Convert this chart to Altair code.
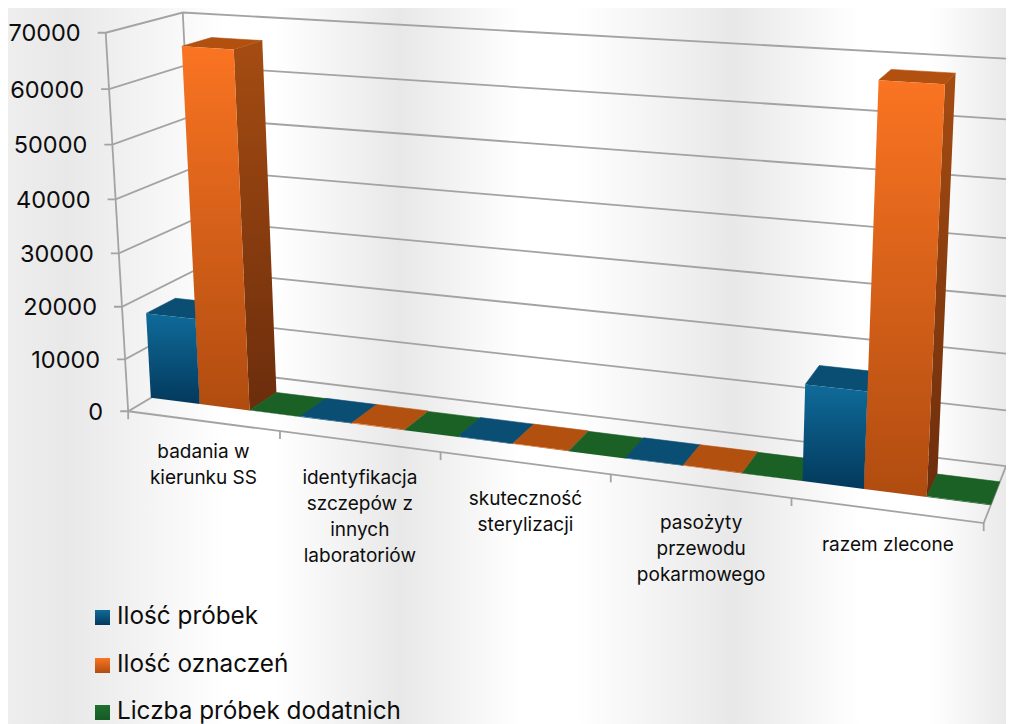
import altair as alt
import numpy as np
import pandas as pd

categories = ["badania w\nkierunku SS", "identyfikacja\nszczepów z\ninnych\nlaboratoriów",
              "skuteczność\nsterylizacji", "pasożyty\nprzewodu\npokarmowego", "razem zlecone"]
series = ["Ilość próbek", "Ilość oznaczeń", "Liczba próbek dodatnich"]
ilosc_probek = [16500, 120, 100, 90, 17000]
ilosc_oznaczen = [67000, 130, 110, 100, 68500]
liczba_dodatnich = [60, 20, 15, 15, 110]
y_ticks = [0, 10000, 20000, 30000, 40000, 50000, 60000, 70000]
ZMAX = 70000

# camera of the 3-D view, fitted on the frame of the plot box
_frame = [((0, 0, 0), (128, 411)), ((1, 0, 0), (984, 522)), ((0, 1, 0), (202, 370)),
          ((1, 1, 0), (1007, 467)), ((0, 0, 1), (105.7, 33)), ((0, 1, 1), (182, 13)),
          ((1, 1, 1), (1026, 58)), ((.2, 0, 0), (279, 433)), ((.4, 0, 0), (440, 454)),
          ((.6, 0, 0), (610, 476)), ((.8, 0, 0), (791, 498)), ((0, 0, 1 / 7), (125.7, 358)),
          ((0, 0, 2 / 7), (122.7, 306)), ((0, 0, 4 / 7), (116, 199)), ((0, 0, 5 / 7), (112.7, 145)),
          ((0, 0, 6 / 7), (109, 89)),
          ((0, .3, 0), (151, 398)), ((1 / 15, .3, 0), (198, 404)), ((2 / 15, .3, 0), (249, 409)),
          ((3 / 15, .3, 0), (302, 417)), ((4 / 15, .3, 0), (352, 423)), ((.8, .3, 0), (802, 480)),
          ((13 / 15, .3, 0), (863, 488)), ((14 / 15, .3, 0), (927, 496)), ((1, .3, 0), (991, 505)),
          ((1, .7, 0), (1000, 483)),
          ((1 / 15, .3, .957), (182, 46)), ((2 / 15, .3, .957), (233, 48)),
          ((13 / 15, .3, .979), (880, 82)), ((14 / 15, .3, .979), (946, 85))]
_w = np.ones(len(_frame))
for _ in range(12):
    _rows = []
    for ((s, d, t), (px, py)), w in zip(_frame, _w):
        _rows.append(np.array([s, d, t, 1, 0, 0, 0, 0, -px * s, -px * d, -px * t, -px]) / w)
        _rows.append(np.array([0, 0, 0, 0, s, d, t, 1, -py * s, -py * d, -py * t, -py]) / w)
    CAM = np.linalg.svd(np.array(_rows, float))[2][-1].reshape(3, 4)
    _w = np.array([(CAM @ np.array([*p, 1.0]))[2] for p, _q in _frame])


def proj(s, d, z):
    v = CAM @ np.array([s, d, z / ZMAX, 1.0])
    return float(v[0] / v[2]), float(v[1] / v[2])


def frame(points, name="a"):
    return pd.DataFrame([{"x": p[0], "y": p[1], "i": i, "g": name} for i, p in enumerate(points)])


X = alt.X("x:Q", scale=alt.Scale(domain=[8, 1006], nice=False, zero=False), axis=None)
Y = alt.Y("y:Q", scale=alt.Scale(domain=[724, 8], nice=False, zero=False), axis=None)
ORDER = alt.Order("i:Q")


def grad(stops, x2=0, y2=1):
    return alt.Gradient(gradient="linear", x1=0, y1=0, x2=x2, y2=y2,
                        stops=[alt.GradientStop(color=c, offset=o) for o, c in stops])


def poly(points, fill, edge=None):
    return alt.Chart(frame(points)).mark_line(fill=fill, stroke=edge or "transparent", strokeWidth=0.6, clip=True).encode(
        x=X, y=Y, order=ORDER)


layers = []

# striped page background
bg_stops = [(0, "#eeeeee"), (66, "#e8e8e8"), (225, "#ffffff"), (275, "#ffffff"), (400, "#e8e8e8"),
            (520, "#ffffff"), (575, "#ffffff"), (733, "#e8e8e8"), (860, "#ffffff"), (930, "#ffffff"),
            (1006, "#eaeaea")]
layers.append(alt.Chart(pd.DataFrame({"a": [0]})).mark_rect(
    fill=grad([((o - 8 if o else 0) / 998, c) for o, c in bg_stops], x2=1, y2=0)
).encode(x=alt.value(0), x2=alt.value(998), y=alt.value(0), y2=alt.value(716)))

# gridlines
segs = []
for n, z in enumerate(y_ticks):
    a, b, c = proj(1, 1, z), proj(0, 1, z), proj(0, 0, z)
    tick = (c[0] - 8, c[1])
    segs.append(frame([a, b, c, tick], f"g{n}"))
segs.append(frame([proj(0, 1, 0), proj(0, 1, ZMAX)], "back"))
segs.append(frame([proj(0, 0, 0), proj(0, 0, ZMAX)], "axis"))
segs.append(frame([proj(0, 0, 0), proj(1, 0, 0), proj(1, 1, 0)], "front"))
for k in range(6):
    p = proj(k / 5, 0, 0)
    segs.append(frame([p, (p[0], p[1] + 8)], f"t{k}"))
layers.append(alt.Chart(pd.concat(segs, ignore_index=True)).mark_line(
    color="#a3a3a3", strokeWidth=1.8, clip=True).encode(x=X, y=Y, order=ORDER, detail="g:N"))

# bars
styles = [
    dict(front=[(0, "#0f6b9a"), (1, "#03395c")], top="#0b4e74", side=[(0, "#0a4a6c"), (1, "#042c46")]),
    dict(front=[(0, "#fa7422"), (1, "#b04c10")], top="#b2500f", side=[(0, "#a54c12"), (1, "#6c2d0c")]),
    dict(front=[(0, "#1e7030"), (1, "#155a22")], top="#1b6024", side=[(0, "#14501e"), (1, "#0e3c16")]),
]
D0, D1 = 0.3, 0.7
all_values = [ilosc_probek, ilosc_oznaczen, liczba_dodatnich]
for c in range(5):
    for b in range(3):
        z = all_values[b][c]
        st = styles[b]
        s0, s1 = (c + b / 3) / 5, (c + (b + 1) / 3) / 5
        layers.append(poly([proj(s1, D0, 0), proj(s1, D1, 0), proj(s1, D1, z), proj(s1, D0, z)],
                           grad(st["side"])))
        layers.append(poly([proj(s0, D0, z), proj(s0, D1, z), proj(s1, D1, z), proj(s1, D0, z)],
                           st["top"], st["top"]))
        layers.append(poly([proj(s0, D0, z), proj(s1, D0, z), proj(s1, D0, 0), proj(s0, D0, 0)],
                           grad(st["front"])))

FONT = "Inter"
INK = "#0d0d0d"
# value labels
ydf = pd.DataFrame([{"x": proj(0, 0, z)[0] - 25, "y": proj(0, 0, z)[1] + 1.5, "t": str(z)} for z in y_ticks])
layers.append(alt.Chart(ydf).mark_text(font=FONT, fontSize=23.5, align="right", baseline="middle",
                                       color=INK).encode(x=X, y=Y, text="t:N"))
# category labels
LABEL_DROP = [31, 37, 36, 37, 35]
rows = []
for c, lab in enumerate(categories):
    px, py = proj((c + 0.5) / 5, 0, 0)
    for ln, txt in enumerate(lab.split("\n")):
        rows.append({"x": px * 1.002, "y": py + LABEL_DROP[c] + 26 * ln, "t": txt})
layers.append(alt.Chart(pd.DataFrame(rows)).mark_text(font=FONT, fontSize=19, align="center", baseline="middle",
                                                      color=INK).encode(x=X, y=Y, text="t:N"))

# legend
LEG_Y = [617.5, 665.5, 712.5]
for lab, ly, st in zip(series, LEG_Y, styles):
    layers.append(alt.Chart(pd.DataFrame({"x": [95.0], "x2": [110.0], "y": [ly - 7.5], "y2": [ly + 7.5]})).mark_rect(
        fill=grad(st["front"])).encode(x=X, x2="x2:Q", y=Y, y2="y2:Q"))
    layers.append(alt.Chart(pd.DataFrame({"x": [117.0], "y": [ly - 0.5], "t": [lab]})).mark_text(
        font=FONT, fontSize=24.3, align="left", baseline="middle", color=INK).encode(x=X, y=Y, text="t:N"))

chart = alt.layer(*layers).properties(width=998, height=716, padding=0, autosize="none").configure_view(stroke=None)
chart.save("out.html", embed_options={"renderer": "svg", "actions": False})
